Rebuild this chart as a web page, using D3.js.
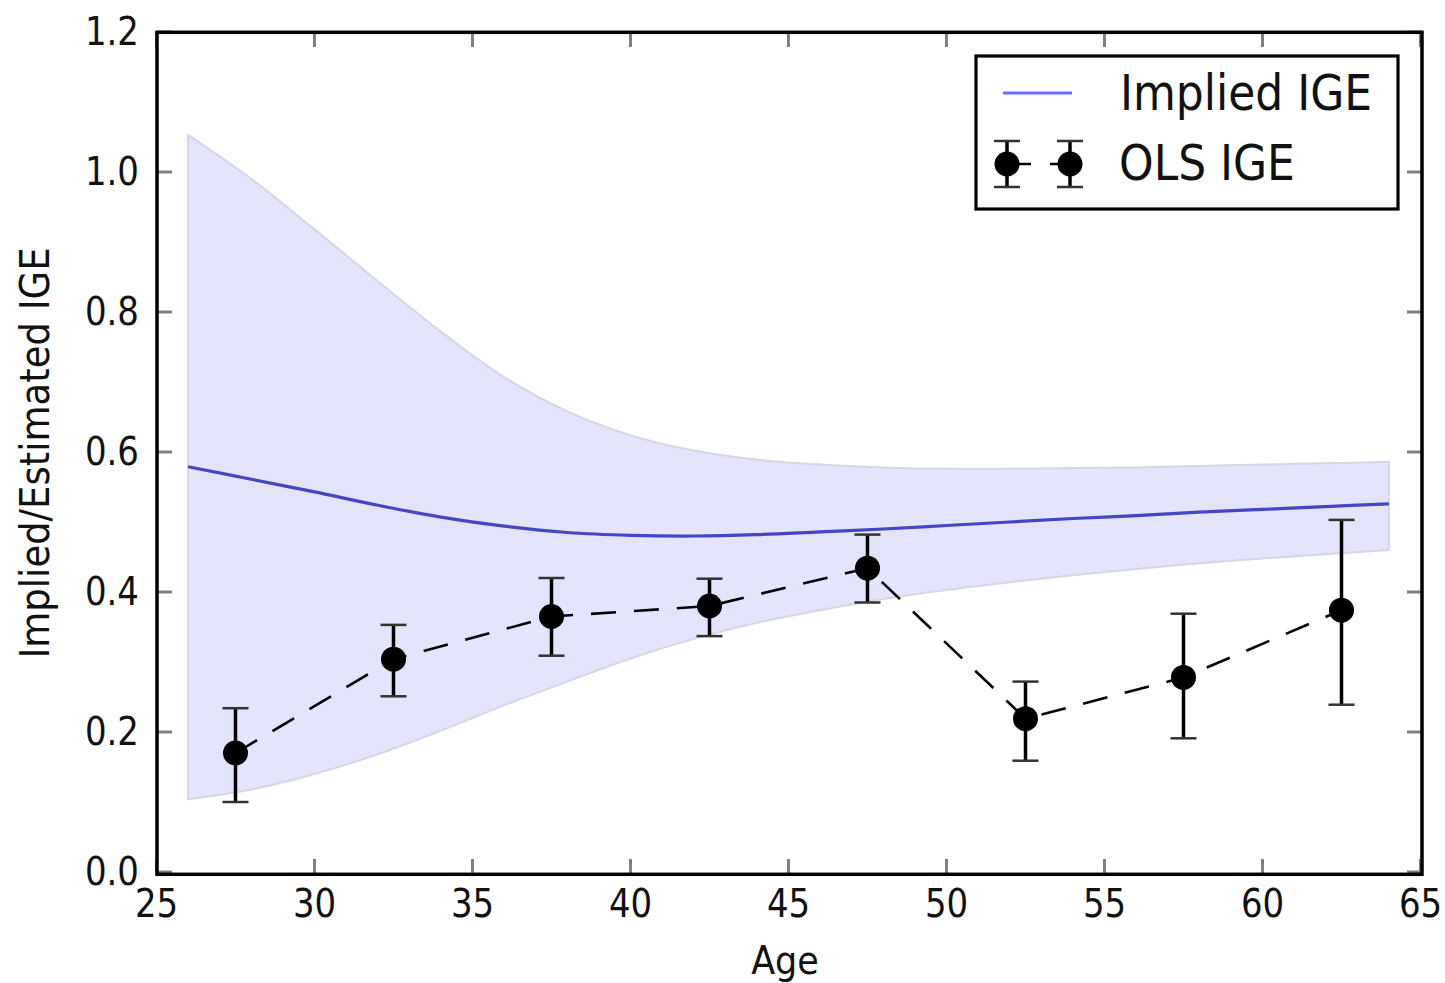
<!DOCTYPE html>
<html>
<head>
<meta charset="utf-8">
<script src="https://cdn.jsdelivr.net/npm/d3@7"></script>
<style>
  html, body { margin: 0; padding: 0; background: #ffffff; }
  svg { display: block; }
  text { font-family: "DejaVu Sans", sans-serif; fill: #111; }
</style>
</head>
<body>
<svg id="chart" width="1445" height="983"></svg>
<script>
// ---------- data ----------
const xTicks = [25, 30, 35, 40, 45, 50, 55, 60, 65];
const xTickLabels = ["25", "30", "35", "40", "45", "50", "55", "60", "65"];
const yTicks = [0.0, 0.2, 0.4, 0.6, 0.8, 1.0, 1.2];
const yTickLabels = ["0.0", "0.2", "0.4", "0.6", "0.8", "1.0", "1.2"];

// Implied IGE curve and its band
const bandAges   = [26, 28, 30, 32, 34, 36, 38, 40, 42, 44, 46, 48, 50, 52, 54, 56, 58, 60, 62, 64];
const impliedIge = [0.579, 0.561, 0.543, 0.524, 0.507, 0.494, 0.485, 0.481, 0.480, 0.482, 0.486, 0.490, 0.495, 0.500, 0.505, 0.509, 0.514, 0.518, 0.522, 0.526];
const bandUpper  = [1.053, 0.990, 0.918, 0.844, 0.772, 0.707, 0.658, 0.624, 0.602, 0.589, 0.582, 0.578, 0.576, 0.576, 0.577, 0.578, 0.580, 0.582, 0.584, 0.586];
const bandLower  = [0.104, 0.118, 0.140, 0.168, 0.202, 0.238, 0.272, 0.305, 0.333, 0.356, 0.374, 0.390, 0.403, 0.414, 0.424, 0.433, 0.441, 0.448, 0.454, 0.460];

// OLS IGE estimates with error bars
const olsAges = [27.5, 32.5, 37.5, 42.5, 47.5, 52.5, 57.5, 62.5];
const olsIge  = [0.170, 0.304, 0.365, 0.380, 0.434, 0.219, 0.278, 0.374];
const olsLow  = [0.100, 0.251, 0.309, 0.337, 0.385, 0.159, 0.191, 0.239];
const olsHigh = [0.234, 0.353, 0.420, 0.419, 0.482, 0.272, 0.369, 0.503];

const legendLabels = ["Implied IGE", "OLS IGE"];

// ---------- drawing ----------
const svg = d3.select("#chart");
const x = d3.scaleLinear().domain([25, 65]).range([156.5, 1420.5]);
const y = d3.scaleLinear().domain([0, 1.2]).range([872, 32]);

function stretchedText(g, tx, ty, str, size, sy, anchor, rot) {
  return g.append("text")
    .attr("transform", `translate(${tx},${ty})` + (rot ? ` rotate(${rot})` : "") + ` scale(1,${sy})`)
    .attr("x", 0).attr("y", 0)
    .attr("font-size", size)
    .attr("text-anchor", anchor)
    .text(str);
}

// band
const bandData = bandAges.map((a, i) => ({a, lo: bandLower[i], hi: bandUpper[i], m: impliedIge[i]}));
const area = d3.area()
  .x(d => x(d.a)).y0(d => y(d.lo)).y1(d => y(d.hi))
  .curve(d3.curveCatmullRom);
svg.append("path")
  .datum(bandData)
  .attr("d", area)
  .attr("fill", "#e4e4fc")
  .attr("stroke", "#d6d6e4")
  .attr("stroke-width", 2);

// implied line
const line = d3.line().x(d => x(d.a)).y(d => y(d.m)).curve(d3.curveCatmullRom);
svg.append("path")
  .datum(bandData)
  .attr("d", line)
  .attr("fill", "none")
  .attr("stroke", "#4646c4")
  .attr("stroke-width", 3.2);

// OLS dashed line
const olsData = olsAges.map((a, i) => ({a, v: olsIge[i], lo: olsLow[i], hi: olsHigh[i]}));
svg.append("path")
  .datum(olsData)
  .attr("d", d3.line().x(d => x(d.a)).y(d => y(d.v)))
  .attr("fill", "none")
  .attr("stroke", "#000")
  .attr("stroke-width", 2.6)
  .attr("stroke-dasharray", "25,18");

// error bars
const eb = svg.append("g");
eb.selectAll("line.v").data(olsData).join("line")
  .attr("x1", d => x(d.a)).attr("x2", d => x(d.a))
  .attr("y1", d => y(d.lo)).attr("y2", d => y(d.hi))
  .attr("stroke", "#000").attr("stroke-width", 3.5);
eb.selectAll("line.capt").data(olsData).join("line")
  .attr("x1", d => x(d.a) - 13).attr("x2", d => x(d.a) + 13)
  .attr("y1", d => y(d.hi)).attr("y2", d => y(d.hi))
  .attr("stroke", "#333").attr("stroke-width", 2.5);
eb.selectAll("line.capb").data(olsData).join("line")
  .attr("x1", d => x(d.a) - 13).attr("x2", d => x(d.a) + 13)
  .attr("y1", d => y(d.lo)).attr("y2", d => y(d.lo))
  .attr("stroke", "#333").attr("stroke-width", 2.5);
eb.selectAll("circle").data(olsData).join("circle")
  .attr("cx", d => x(d.a)).attr("cy", d => y(d.v))
  .attr("r", 12.5).attr("fill", "#000");

// ticks (inward, all four sides)
const tickLen = 15, tickCol = "#808080", tickW = 3;
const tg = svg.append("g");
xTicks.forEach(t => {
  tg.append("line").attr("x1", x(t)).attr("x2", x(t)).attr("y1", 874).attr("y2", 874 - tickLen)
    .attr("stroke", tickCol).attr("stroke-width", tickW);
  tg.append("line").attr("x1", x(t)).attr("x2", x(t)).attr("y1", 32).attr("y2", 32 + tickLen)
    .attr("stroke", tickCol).attr("stroke-width", tickW);
});
yTicks.forEach(t => {
  tg.append("line").attr("x1", 157).attr("x2", 157 + tickLen).attr("y1", y(t)).attr("y2", y(t))
    .attr("stroke", tickCol).attr("stroke-width", tickW);
  tg.append("line").attr("x1", 1422).attr("x2", 1422 - tickLen).attr("y1", y(t)).attr("y2", y(t))
    .attr("stroke", tickCol).attr("stroke-width", tickW);
});

// frame
svg.append("rect")
  .attr("x", 157).attr("y", 32.3).attr("width", 1265).attr("height", 842)
  .attr("fill", "none").attr("stroke", "#000").attr("stroke-width", 3.5);

// tick labels
const lg = svg.append("g");
xTicks.forEach((t, i) => stretchedText(lg, x(t), 917, xTickLabels[i], 34, 1.15, "middle"));
yTicks.forEach((t, i) => stretchedText(lg, 139, y(t) + 12.5, yTickLabels[i], 34, 1.15, "end"));

// axis titles
stretchedText(svg, 785, 974, "Age", 35, 1.14, "middle");
stretchedText(svg, 49, 453, "Implied/Estimated IGE", 37, 1.1, "middle", -90);

// legend
const leg = svg.append("g");
leg.append("rect").attr("x", 976).attr("y", 56).attr("width", 422).attr("height", 153)
  .attr("fill", "#fff").attr("stroke", "#000").attr("stroke-width", 3.2);
leg.append("line").attr("x1", 1003).attr("x2", 1072).attr("y1", 93).attr("y2", 93)
  .attr("stroke", "#6b6bff").attr("stroke-width", 3);
stretchedText(leg, 1120, 110, legendLabels[0], 44, 1.13, "start");

const lmx = [1007, 1070], lmy = 164;
leg.append("line").attr("x1", lmx[0]).attr("x2", lmx[1]).attr("y1", lmy).attr("y2", lmy)
  .attr("stroke", "#000").attr("stroke-width", 2.6).attr("stroke-dasharray", "24,19");
lmx.forEach(mx => {
  leg.append("line").attr("x1", mx).attr("x2", mx).attr("y1", lmy - 23).attr("y2", lmy + 23)
    .attr("stroke", "#000").attr("stroke-width", 3.5);
  leg.append("line").attr("x1", mx - 13).attr("x2", mx + 13).attr("y1", lmy - 23).attr("y2", lmy - 23)
    .attr("stroke", "#333").attr("stroke-width", 2.5);
  leg.append("line").attr("x1", mx - 13).attr("x2", mx + 13).attr("y1", lmy + 23).attr("y2", lmy + 23)
    .attr("stroke", "#333").attr("stroke-width", 2.5);
  leg.append("circle").attr("cx", mx).attr("cy", lmy).attr("r", 12.5).attr("fill", "#000");
});
stretchedText(leg, 1119, 180, legendLabels[1], 44, 1.13, "start");
</script>
</body>
</html>
